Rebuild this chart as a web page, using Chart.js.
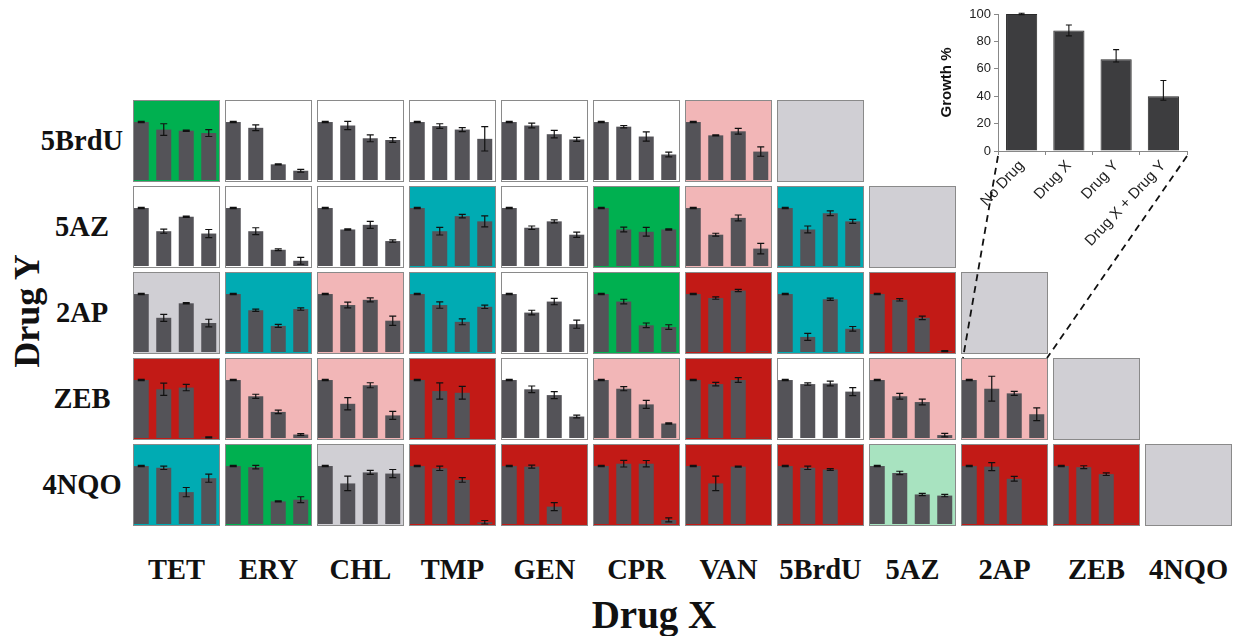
<!DOCTYPE html>
<html><head><meta charset="utf-8">
<script src="https://cdn.jsdelivr.net/npm/chart.js@4/dist/chart.umd.min.js"></script>
<style>
html,body{margin:0;padding:0;background:#fff}
body{width:1237px;height:636px;overflow:hidden;position:relative}
canvas{position:absolute}
.lbl{position:absolute;font-family:'Liberation Serif',serif;font-weight:bold;color:#111;white-space:nowrap;transform:translate(-50%,-50%);line-height:1}
.empty{position:absolute;box-sizing:border-box;border:1px solid #8a8a8a;background:#d0cfd4}
svg{position:absolute;left:0;top:0;z-index:5}
</style></head><body>
<script>
// ---------- DATA ----------
const drugX = ['TET','ERY','CHL','TMP','GEN','CPR','VAN','5BrdU','5AZ','2AP','ZEB','4NQO'];
const drugY = ['5BrdU','5AZ','2AP','ZEB','4NQO'];
const conditions = ['No Drug','Drug X','Drug Y','Drug X + Drug Y'];

// growth % for [No Drug, Drug X, Drug Y, X+Y], one entry per Drug X column
const growth_5BrdU = [[100,87,85,81],[100,90,27,16],[100,94,72,69],[100,93,87,71],[100,94,79,70],[100,92,75,44],[100,77,84,49]];
const sd_5BrdU     = [[1,10,1,6],[1,5,1,2.5],[1,7,6,4],[1,4,3.5,21],[1,4,6.5,3.5],[1,2,8,4],[1,1,5,8]];
const type_5BrdU   = ['G','W','W','W','W','W','P'];

const growth_5AZ = [[100,60,85,56],[100,60,28,9],[100,63,71,43],[100,60,86,77],[100,66,77,54],[100,63,59,63],[100,54,83,30],[100,63,91,77]];
const sd_5AZ     = [[1,3.5,1,7],[1,6,1.5,6],[1,1,6,2],[1,6.5,3,9.5],[1,3,2.5,4.5],[1,4,7.5,1],[1,2.5,5,9],[1,6,4,3.5]];
const type_5AZ   = ['W','W','W','T','W','G','P','T'];

const growth_2AP = [[100,59,84,50],[100,72,45,74],[100,81,90,54],[100,81,52,78],[100,68,87,48],[100,87,46,43],[100,93,106,1],[100,26,91,40],[100,90,59,1.5]];
const sd_2AP     = [[1,6,1,6.5],[1,2,2.5,2],[1,5,3.5,8],[1,5.5,5,3],[1,4,5.5,7],[1,4,4,4],[1,2,2,0],[1,6,2,4],[1,2,3,1]];
const type_2AP   = ['S','T','P','T','W','G','R','T','R'];

const growth_ZEB = [[100,84,87,1],[100,72,45,6],[100,59,91,39],[100,81,78,0],[100,84,74,37],[100,85,58,25],[100,93,100,0.5],[100,93,94,80],[100,72,62,5],[100,85,77,41]];
const sd_ZEB     = [[1,10.5,5.5,1],[1,3.5,3,1.5],[1,10.5,4.3,7],[1,14,11,0],[1,5.7,6,2.3],[1,3.5,7,1],[1,3,4,0],[1,2,4,7],[1,5,5,3],[1,21.5,3.5,11]];
const type_ZEB   = ['R','P','P','R','W','P','R','W','P','P'];

const growth_4NQO = [[100,97,55,79],[100,98,39,42],[100,70,89,87],[100,96,76,3],[100,99,30,0],[100,104,104,7],[100,70,99,0],[100,97,94,0.5],[100,88,51,49],[100,99,78,0],[100,98,86,0.5]];
const sd_4NQO     = [[1,3,8,7],[1,3,1,5],[1,12.5,3.5,7],[1,3.7,4,3],[1,2.6,7,0],[1,5.7,5.5,3.5],[1,12.5,1,0],[1,3,1.5,0],[1,3,2,2],[1,7,4,0],[1,2.5,2.3,0]];
const type_4NQO   = ['T','G','S','R','R','R','R','R','L','R','R'];

// inset example
const insetLabels   = ['No Drug','Drug X','Drug Y','Drug X + Drug Y'];
const insetGrowth   = [100,88,67,40];
const insetErrUp    = [0.5,4,7,11.5];
const insetErrDown  = [0.5,4,2,3];
const insetYTicks   = [0,20,40,60,80,100];

// ---------- STYLE ----------
const PALETTE = {G:'#00b050',W:'#ffffff',P:'#f2b6b7',T:'#00abb3',R:'#c21a16',S:'#d0cfd4',L:'#a8e3c0'};
const BAR = '#545358';
const X0 = 133, PX = 92, Y0 = 100, PY = 86, PW = 87, PH = 82, SHIFT = 3;

const rows = [
  [growth_5BrdU, sd_5BrdU, type_5BrdU],
  [growth_5AZ, sd_5AZ, type_5AZ],
  [growth_2AP, sd_2AP, type_2AP],
  [growth_ZEB, sd_ZEB, type_ZEB],
  [growth_4NQO, sd_4NQO, type_4NQO]
];

const framePlugin = {
  id:'frame',
  beforeDraw(chart, args, opts){
    const ctx = chart.ctx;
    ctx.save(); ctx.fillStyle = opts.bg; ctx.fillRect(SHIFT,0,PW,PH); ctx.restore();
  },
  afterDraw(chart){
    const ctx = chart.ctx;
    ctx.save(); ctx.strokeStyle='#8a8a8a'; ctx.lineWidth=1;
    ctx.strokeRect(SHIFT+0.5,0.5,PW-1,PH-1); ctx.restore();
  }
};

const errPlugin = {
  id:'err',
  afterDatasetsDraw(chart, args, opts){
    const ctx = chart.ctx, ys = chart.scales.y;
    chart.data.datasets.forEach((ds,di)=>{
      const meta = chart.getDatasetMeta(di);
      meta.data.forEach((bar,i)=>{
        const v = ds.data[i];
        const up = (ds.errUp||ds.err)[i], dn = (ds.errDown||ds.err)[i];
        if(!up && !dn) return;
        const x = bar.x;
        const yt = ys.getPixelForValue(v+up), yb = ys.getPixelForValue(Math.max(0,v-dn));
        const cw = opts.cap || 3.5;
        ctx.save(); ctx.strokeStyle='#111'; ctx.lineWidth = opts.lw || 1.2;
        ctx.beginPath();
        ctx.moveTo(x,yt); ctx.lineTo(x,yb);
        ctx.moveTo(x-cw,yt); ctx.lineTo(x+cw,yt);
        ctx.moveTo(x-cw,yb); ctx.lineTo(x+cw,yb);
        ctx.stroke(); ctx.restore();
      });
    });
  }
};

function makePanel(ri, ci, vals, errs, cls){
  const c = document.createElement('canvas');
  c.width = PW + SHIFT; c.height = PH;
  c.style.left = (X0 + ci*PX - SHIFT) + 'px';
  c.style.top = (Y0 + ri*PY) + 'px';
  document.body.appendChild(c);
  new Chart(c, {
    type:'bar',
    data:{labels:conditions, datasets:[{data:vals, err:errs, backgroundColor:BAR, borderWidth:0, categoryPercentage:1, barPercentage:0.667}]},
    options:{
      responsive:false, animation:false, events:[],
      layout:{padding:{top:0,bottom:2,left:0,right:0}},
      plugins:{legend:{display:false}, tooltip:{enabled:false}, frame:{bg:PALETTE[cls]}, err:{cap:3.5, lw:1.2}},
      scales:{x:{display:false}, y:{display:false, min:0, max:138}}
    },
    plugins:[framePlugin, errPlugin]
  });
}

rows.forEach((r,ri)=>{
  const [g,s,t] = r;
  g.forEach((vals,ci)=> makePanel(ri, ci, vals, s[ci], t[ci]));
  const e = document.createElement('div');
  e.className='empty';
  e.style.left = (X0 + g.length*PX)+'px';
  e.style.top = (Y0 + ri*PY)+'px';
  e.style.width = PW+'px'; e.style.height = PH+'px';
  document.body.appendChild(e);
  const l = document.createElement('div');
  l.className='lbl'; l.textContent = drugY[ri];
  l.style.left='82px'; l.style.top=(Y0 + ri*PY + 41)+'px'; l.style.fontSize='28.5px';
  document.body.appendChild(l);
});

drugX.forEach((name,ci)=>{
  const l = document.createElement('div');
  l.className='lbl'; l.textContent=name;
  l.style.left=(X0 + ci*PX + PW/2)+'px'; l.style.top='570px'; l.style.fontSize='28.5px';
  document.body.appendChild(l);
});

const ax = document.createElement('div');
ax.className='lbl'; ax.textContent='Drug X'; ax.style.left='654px'; ax.style.top='614px'; ax.style.fontSize='39px';
document.body.appendChild(ax);
const ay = document.createElement('div');
ay.className='lbl'; ay.textContent='Drug Y'; ay.style.left='27px'; ay.style.top='311px'; ay.style.fontSize='36px';
ay.style.transform='translate(-50%,-50%) rotate(-90deg)';
document.body.appendChild(ay);

// ---------- INSET ----------
const IL = 930, IT = 0;
const ic = document.createElement('canvas');
ic.width = 270; ic.height = 262; ic.style.left = IL+'px'; ic.style.top = IT+'px';
document.body.appendChild(ic);
const inset = new Chart(ic, {
  type:'bar',
  data:{labels:insetLabels, datasets:[{data:insetGrowth, errUp:insetErrUp, errDown:insetErrDown, backgroundColor:'#3d3d3f', borderColor:'#2a2a2a', borderWidth:1, categoryPercentage:1, barPercentage:0.66}]},
  options:{
    responsive:false, animation:false, events:[],
    layout:{padding:{top:14,right:13,left:0,bottom:0}},
    plugins:{legend:{display:false}, tooltip:{enabled:false}, err:{cap:3, lw:1.1}},
    scales:{
      y:{min:0,max:100,
         afterBuildTicks(s){ s.ticks = insetYTicks.map(v=>({value:v})); },
         ticks:{font:{family:'Liberation Sans',size:13},color:'#222',padding:3},
         grid:{drawOnChartArea:false,color:'#888',tickLength:4},
         border:{color:'#888'},
         title:{display:true,text:'Growth %',font:{family:'Liberation Sans',size:15,weight:'bold'},color:'#111',padding:{top:8,bottom:0}},
         afterFit(s){ s.width = 68; }
      },
      x:{
         ticks:{font:{family:'Liberation Sans',size:15},color:'#222',minRotation:47,maxRotation:47,padding:2},
         grid:{drawOnChartArea:false,offset:true,color:'#888',tickLength:4},
         border:{color:'#888'},
         afterFit(s){ s.height = 111; }
      }
    }
  },
  plugins:[errPlugin]
});

// connector lines from inset to the ZEB x 2AP panel
const ca = inset.chartArea;
const tRow = 3, tCol = 9;
const px0 = X0 + tCol*PX, py0 = Y0 + tRow*PY;
const svgNS = 'http://www.w3.org/2000/svg';
const svg = document.createElementNS(svgNS,'svg');
svg.setAttribute('width','1237'); svg.setAttribute('height','636');
[[IL+ca.left, IT+ca.bottom+5, px0+2, py0],[IL+ca.right, IT+ca.bottom+5, px0+PW-1, py0]].forEach(p=>{
  const ln = document.createElementNS(svgNS,'line');
  ln.setAttribute('x1',p[0]); ln.setAttribute('y1',p[1]); ln.setAttribute('x2',p[2]); ln.setAttribute('y2',p[3]);
  ln.setAttribute('stroke','#111'); ln.setAttribute('stroke-width','1.8'); ln.setAttribute('stroke-dasharray','7,5');
  svg.appendChild(ln);
});
document.body.appendChild(svg);
</script>
</body></html>
